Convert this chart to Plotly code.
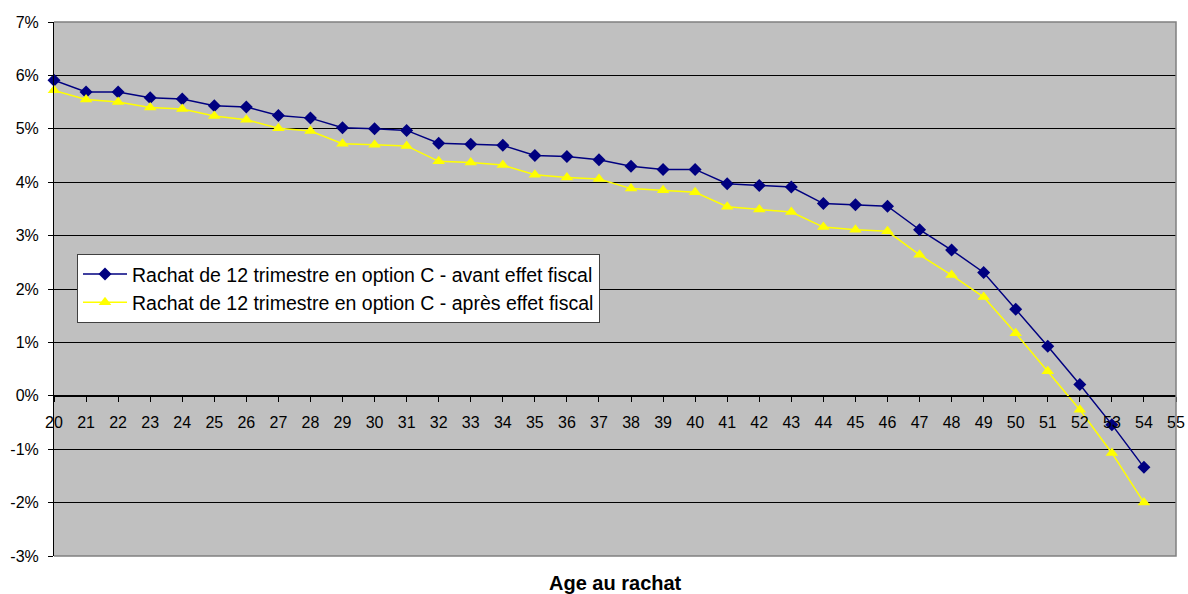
import plotly.graph_objects as go

# Age at buy-back
ages = list(range(20, 55))

# Return (%) before tax effect
avant = [5.91, 5.69, 5.69, 5.58, 5.56, 5.43, 5.41, 5.25, 5.20, 5.02, 5.00,
         4.97, 4.73, 4.71, 4.69, 4.50, 4.48, 4.42, 4.30, 4.24, 4.24,
         3.97, 3.94, 3.91, 3.60, 3.58, 3.55, 3.11, 2.73, 2.31, 1.62,
         0.93, 0.21, -0.54, -1.34]

# Return (%) after tax effect
apres = [5.72, 5.55, 5.50, 5.40, 5.37, 5.24, 5.17, 5.01, 4.96, 4.72, 4.70,
         4.68, 4.39, 4.37, 4.32, 4.14, 4.09, 4.06, 3.88, 3.85, 3.81,
         3.54, 3.49, 3.44, 3.16, 3.11, 3.08, 2.64, 2.26, 1.85, 1.17,
         0.46, -0.26, -1.07, -2.00]

# Y axis ticks and their labels (plain hyphen for negatives)
y_ticks = [-3, -2, -1, 0, 1, 2, 3, 4, 5, 6, 7]
y_labels = ["-3%", "-2%", "-1%", "0%", "1%", "2%", "3%", "4%", "5%", "6%", "7%"]

name_avant = "Rachat de 12 trimestre en option C - avant effet fiscal"
name_apres = "Rachat de 12 trimestre en option C - après effet fiscal"
x_title = "Age au rachat"

FONT = "Arial, Liberation Sans, sans-serif"

fig = go.Figure()
fig.add_trace(go.Scatter(
    x=ages, y=avant, name=name_avant, mode="lines+markers",
    line=dict(color="#000080", width=1.5),
    marker=dict(symbol="diamond", size=10, color="#000080"),
    cliponaxis=False,
))
fig.add_trace(go.Scatter(
    x=ages, y=apres, name=name_apres, mode="lines+markers",
    line=dict(color="#FFFF00", width=1.5),
    marker=dict(symbol="triangle-up", size=11, color="#FFFF00"),
    cliponaxis=False,
))

ymin, ymax = y_ticks[0], y_ticks[-1]
fig.update_layout(
    width=1188, height=594,
    margin=dict(l=54, r=12, t=22, b=38),
    paper_bgcolor="white",
    plot_bgcolor="#C0C0C0",
    font=dict(family=FONT, size=16, color="black"),
    showlegend=True,
    legend=dict(
        x=0.0205, y=0.566, xanchor="left", yanchor="top",
        bgcolor="white", bordercolor="#404040", borderwidth=1,
        font=dict(family=FONT, size=19.5, color="black"),
        itemwidth=44, tracegroupgap=0,
    ),
    xaxis=dict(
        range=[20, 55], tick0=20, dtick=1,
        anchor="free", position=(0 - ymin) / (ymax - ymin),
        automargin=False,
        showgrid=False, zeroline=False,
        showline=True, linecolor="black", linewidth=1,
        ticks="outside", ticklen=5, tickcolor="black",
        ticklabelstandoff=7,
        tickfont=dict(family=FONT, size=16, color="black"),
    ),
    yaxis=dict(
        range=[ymin, ymax], tickvals=y_ticks, ticktext=y_labels,
        automargin=False,
        showgrid=True, gridcolor="black", gridwidth=1,
        zeroline=True, zerolinecolor="black", zerolinewidth=1,
        showline=True, linecolor="black", linewidth=1,
        ticks="outside", ticklen=5, tickcolor="black",
        ticklabelstandoff=6,
        tickfont=dict(family=FONT, size=16, color="black"),
    ),
    shapes=[dict(
        type="path", xref="paper", yref="paper",
        path="M 0,0 L 1,0 L 1,1 L 0,1",
        line=dict(color="#808080", width=1.5), layer="above",
    )],
    annotations=[dict(
        text="<b>" + x_title + "</b>", xref="paper", yref="paper",
        x=0.5, y=0, yshift=-27, xanchor="center", yanchor="middle",
        showarrow=False, font=dict(family=FONT, size=20, color="black"),
    )],
)

fig.write_html("out.html")
